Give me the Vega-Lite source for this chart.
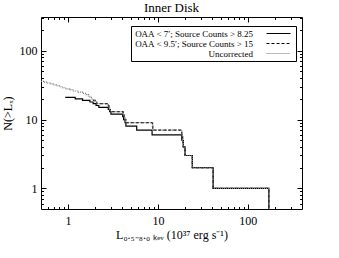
{
  "$schema": "https://vega.github.io/schema/vega-lite/v6.json",
  "width": 261,
  "height": 192,
  "autosize": {"type": "none"},
  "padding": {"left": 41, "top": 17, "right": 37, "bottom": 49},
  "background": "white",
  "config": {
    "font": "Liberation Serif",
    "view": {"stroke": null},
    "axis": {
      "grid": false,
      "domainColor": "black",
      "domainWidth": 1,
      "tickColor": "black",
      "tickWidth": 1,
      "labelColor": "black",
      "titleColor": "black",
      "labelFont": "Liberation Serif",
      "titleFont": "Liberation Serif",
      "labelFontSize": 12,
      "titleFontSize": 12,
      "titleFontWeight": "normal"
    },
    "legend": {
      "strokeColor": "black",
      "strokeWidth": 1,
      "fillColor": "white",
      "padding": 2.5,
      "labelFont": "Liberation Serif",
      "labelFontSize": 9,
      "labelColor": "black",
      "labelAlign": "right",
      "labelOffset": -30.5,
      "symbolOffset": 140,
      "symbolType": "M-3,0H3",
      "symbolSize": 64,
      "symbolStrokeWidth": 1.2,
      "rowPadding": -1.2,
      "labelLimit": 250
    }
  },
  "title": {"text": "Inner Disk", "font": "Liberation Serif", "fontSize": 13, "fontWeight": "normal", "color": "black", "offset": 2, "anchor": "middle"},
  "data": {
    "values": [
      {"s": "OAA < 7′; Source Counts > 8.25", "L": 0.93, "N": 21},
      {"s": "OAA < 7′; Source Counts > 8.25", "L": 1.2, "N": 20},
      {"s": "OAA < 7′; Source Counts > 8.25", "L": 1.45, "N": 19},
      {"s": "OAA < 7′; Source Counts > 8.25", "L": 1.75, "N": 18},
      {"s": "OAA < 7′; Source Counts > 8.25", "L": 1.9, "N": 17},
      {"s": "OAA < 7′; Source Counts > 8.25", "L": 2.05, "N": 16},
      {"s": "OAA < 7′; Source Counts > 8.25", "L": 2.2, "N": 15},
      {"s": "OAA < 7′; Source Counts > 8.25", "L": 2.8, "N": 14},
      {"s": "OAA < 7′; Source Counts > 8.25", "L": 2.9, "N": 13},
      {"s": "OAA < 7′; Source Counts > 8.25", "L": 3.0, "N": 12},
      {"s": "OAA < 7′; Source Counts > 8.25", "L": 4.05, "N": 11},
      {"s": "OAA < 7′; Source Counts > 8.25", "L": 4.15, "N": 10},
      {"s": "OAA < 7′; Source Counts > 8.25", "L": 4.3, "N": 9},
      {"s": "OAA < 7′; Source Counts > 8.25", "L": 4.4, "N": 8},
      {"s": "OAA < 7′; Source Counts > 8.25", "L": 5.8, "N": 7},
      {"s": "OAA < 7′; Source Counts > 8.25", "L": 8.6, "N": 6},
      {"s": "OAA < 7′; Source Counts > 8.25", "L": 18.4, "N": 5},
      {"s": "OAA < 7′; Source Counts > 8.25", "L": 19.1, "N": 4},
      {"s": "OAA < 7′; Source Counts > 8.25", "L": 20.0, "N": 3},
      {"s": "OAA < 7′; Source Counts > 8.25", "L": 24.1, "N": 2},
      {"s": "OAA < 7′; Source Counts > 8.25", "L": 41.1, "N": 1},
      {"s": "OAA < 7′; Source Counts > 8.25", "L": 171, "N": 0.5},
      {"s": "OAA < 9.5′; Source Counts > 15", "L": 1.9, "N": 19},
      {"s": "OAA < 9.5′; Source Counts > 15", "L": 2.0, "N": 18},
      {"s": "OAA < 9.5′; Source Counts > 15", "L": 2.08, "N": 17},
      {"s": "OAA < 9.5′; Source Counts > 15", "L": 2.8, "N": 16},
      {"s": "OAA < 9.5′; Source Counts > 15", "L": 2.85, "N": 15},
      {"s": "OAA < 9.5′; Source Counts > 15", "L": 2.9, "N": 14},
      {"s": "OAA < 9.5′; Source Counts > 15", "L": 2.95, "N": 13},
      {"s": "OAA < 9.5′; Source Counts > 15", "L": 4.1, "N": 12},
      {"s": "OAA < 9.5′; Source Counts > 15", "L": 4.2, "N": 11},
      {"s": "OAA < 9.5′; Source Counts > 15", "L": 4.3, "N": 10},
      {"s": "OAA < 9.5′; Source Counts > 15", "L": 4.4, "N": 9},
      {"s": "OAA < 9.5′; Source Counts > 15", "L": 8.7, "N": 8},
      {"s": "OAA < 9.5′; Source Counts > 15", "L": 8.75, "N": 7},
      {"s": "OAA < 9.5′; Source Counts > 15", "L": 18.4, "N": 6},
      {"s": "OAA < 9.5′; Source Counts > 15", "L": 18.8, "N": 5},
      {"s": "OAA < 9.5′; Source Counts > 15", "L": 19.1, "N": 4},
      {"s": "OAA < 9.5′; Source Counts > 15", "L": 20.0, "N": 3},
      {"s": "OAA < 9.5′; Source Counts > 15", "L": 24.1, "N": 2},
      {"s": "OAA < 9.5′; Source Counts > 15", "L": 41.1, "N": 1},
      {"s": "OAA < 9.5′; Source Counts > 15", "L": 171, "N": 0.5},
      {"s": "Uncorrected", "L": 0.5, "N": 36},
      {"s": "Uncorrected", "L": 0.55, "N": 35},
      {"s": "Uncorrected", "L": 0.59, "N": 34},
      {"s": "Uncorrected", "L": 0.63, "N": 33},
      {"s": "Uncorrected", "L": 0.68, "N": 32},
      {"s": "Uncorrected", "L": 0.74, "N": 31},
      {"s": "Uncorrected", "L": 0.8, "N": 30},
      {"s": "Uncorrected", "L": 0.87, "N": 29},
      {"s": "Uncorrected", "L": 0.95, "N": 28},
      {"s": "Uncorrected", "L": 1.04, "N": 27},
      {"s": "Uncorrected", "L": 1.15, "N": 26},
      {"s": "Uncorrected", "L": 1.3, "N": 25},
      {"s": "Uncorrected", "L": 1.45, "N": 24},
      {"s": "Uncorrected", "L": 1.6, "N": 23},
      {"s": "Uncorrected", "L": 1.68, "N": 22},
      {"s": "Uncorrected", "L": 1.75, "N": 21},
      {"s": "Uncorrected", "L": 1.82, "N": 20},
      {"s": "Uncorrected", "L": 1.9, "N": 19},
      {"s": "Uncorrected", "L": 2.0, "N": 18},
      {"s": "Uncorrected", "L": 2.08, "N": 17},
      {"s": "Uncorrected", "L": 2.8, "N": 16},
      {"s": "Uncorrected", "L": 2.85, "N": 15},
      {"s": "Uncorrected", "L": 2.9, "N": 14},
      {"s": "Uncorrected", "L": 2.95, "N": 13},
      {"s": "Uncorrected", "L": 4.1, "N": 12},
      {"s": "Uncorrected", "L": 4.2, "N": 11},
      {"s": "Uncorrected", "L": 4.3, "N": 10},
      {"s": "Uncorrected", "L": 4.4, "N": 9},
      {"s": "Uncorrected", "L": 8.7, "N": 8},
      {"s": "Uncorrected", "L": 8.75, "N": 7},
      {"s": "Uncorrected", "L": 18.4, "N": 6},
      {"s": "Uncorrected", "L": 18.8, "N": 5},
      {"s": "Uncorrected", "L": 19.1, "N": 4},
      {"s": "Uncorrected", "L": 20.0, "N": 3},
      {"s": "Uncorrected", "L": 24.1, "N": 2},
      {"s": "Uncorrected", "L": 41.1, "N": 1},
      {"s": "Uncorrected", "L": 171, "N": 0.5}
    ]
  },
  "resolve": {"axis": {"x": "independent", "y": "independent"}},
  "layer": [
    {
      "mark": {"type": "line", "interpolate": "step-after", "strokeWidth": 1.2, "clip": true},
      "encoding": {
        "x": {"field": "L", "type": "quantitative", "scale": {"type": "log", "domain": [0.5, 400], "nice": false},
          "axis": {"orient": "bottom", "values": [1, 10, 100], "format": "d", "ticks": false, "labelPadding": 6, "title": "L₀.₅₋₈.₀ ₖₑᵥ (10³⁷ erg s⁻¹)", "titlePadding": 3}},
        "y": {"field": "N", "type": "quantitative", "scale": {"type": "log", "domain": [0.5, 310], "nice": false},
          "axis": {"orient": "left", "values": [1, 10, 100], "format": "d", "ticks": false, "labelPadding": 4, "title": "N(>Lₓ)", "titlePadding": 5}},
        "color": {"field": "s", "type": "nominal",
          "scale": {"domain": ["OAA < 7′; Source Counts > 8.25", "OAA < 9.5′; Source Counts > 15", "Uncorrected"], "range": ["#000000", "#000000", "#777777"]},
          "legend": {"title": null, "orient": "none", "legendX": 90, "legendY": 9}},
        "strokeDash": {"field": "s", "type": "nominal",
          "scale": {"domain": ["OAA < 7′; Source Counts > 8.25", "OAA < 9.5′; Source Counts > 15", "Uncorrected"], "range": [[1, 0], [3, 2], [1, 1]]},
          "legend": {"title": null, "orient": "none", "legendX": 90, "legendY": 9}}
      }
    },
    {
      "mark": {"type": "line", "strokeOpacity": 0},
      "encoding": {
        "x": {"field": "L", "type": "quantitative", "axis": {"orient": "bottom", "values": [1, 10, 100], "labels": false, "domain": false, "tickSize": -5, "title": null}},
        "y": {"field": "N", "type": "quantitative", "axis": {"orient": "right", "values": [1, 10, 100], "labels": false, "domain": true, "tickSize": -5, "title": null}}
      }
    },
    {
      "mark": {"type": "line", "strokeOpacity": 0},
      "encoding": {
        "x": {"field": "L", "type": "quantitative", "axis": {"orient": "top", "values": [1, 10, 100], "labels": false, "domain": true, "tickSize": -5, "title": null}},
        "y": {"field": "N", "type": "quantitative", "axis": {"orient": "left", "values": [1, 10, 100], "labels": false, "domain": false, "tickSize": -5, "title": null}}
      }
    },
    {
      "mark": {"type": "line", "strokeOpacity": 0},
      "encoding": {
        "x": {"field": "L", "type": "quantitative", "axis": {"orient": "bottom", "values": [0.6, 0.7, 0.8, 0.9, 2, 3, 4, 5, 6, 7, 8, 9, 20, 30, 40, 50, 60, 70, 80, 90, 200, 300], "labels": false, "domain": false, "tickSize": -2.5, "title": null}},
        "y": {"field": "N", "type": "quantitative", "axis": {"orient": "right", "values": [0.6, 0.7, 0.8, 0.9, 2, 3, 4, 5, 6, 7, 8, 9, 20, 30, 40, 50, 60, 70, 80, 90, 200, 300], "labels": false, "domain": false, "tickSize": -2.5, "title": null}}
      }
    },
    {
      "mark": {"type": "line", "strokeOpacity": 0},
      "encoding": {
        "x": {"field": "L", "type": "quantitative", "axis": {"orient": "top", "values": [0.6, 0.7, 0.8, 0.9, 2, 3, 4, 5, 6, 7, 8, 9, 20, 30, 40, 50, 60, 70, 80, 90, 200, 300], "labels": false, "domain": false, "tickSize": -2.5, "title": null}},
        "y": {"field": "N", "type": "quantitative", "axis": {"orient": "left", "values": [0.6, 0.7, 0.8, 0.9, 2, 3, 4, 5, 6, 7, 8, 9, 20, 30, 40, 50, 60, 70, 80, 90, 200, 300], "labels": false, "domain": false, "tickSize": -2.5, "title": null}}
      }
    }
  ]
}
